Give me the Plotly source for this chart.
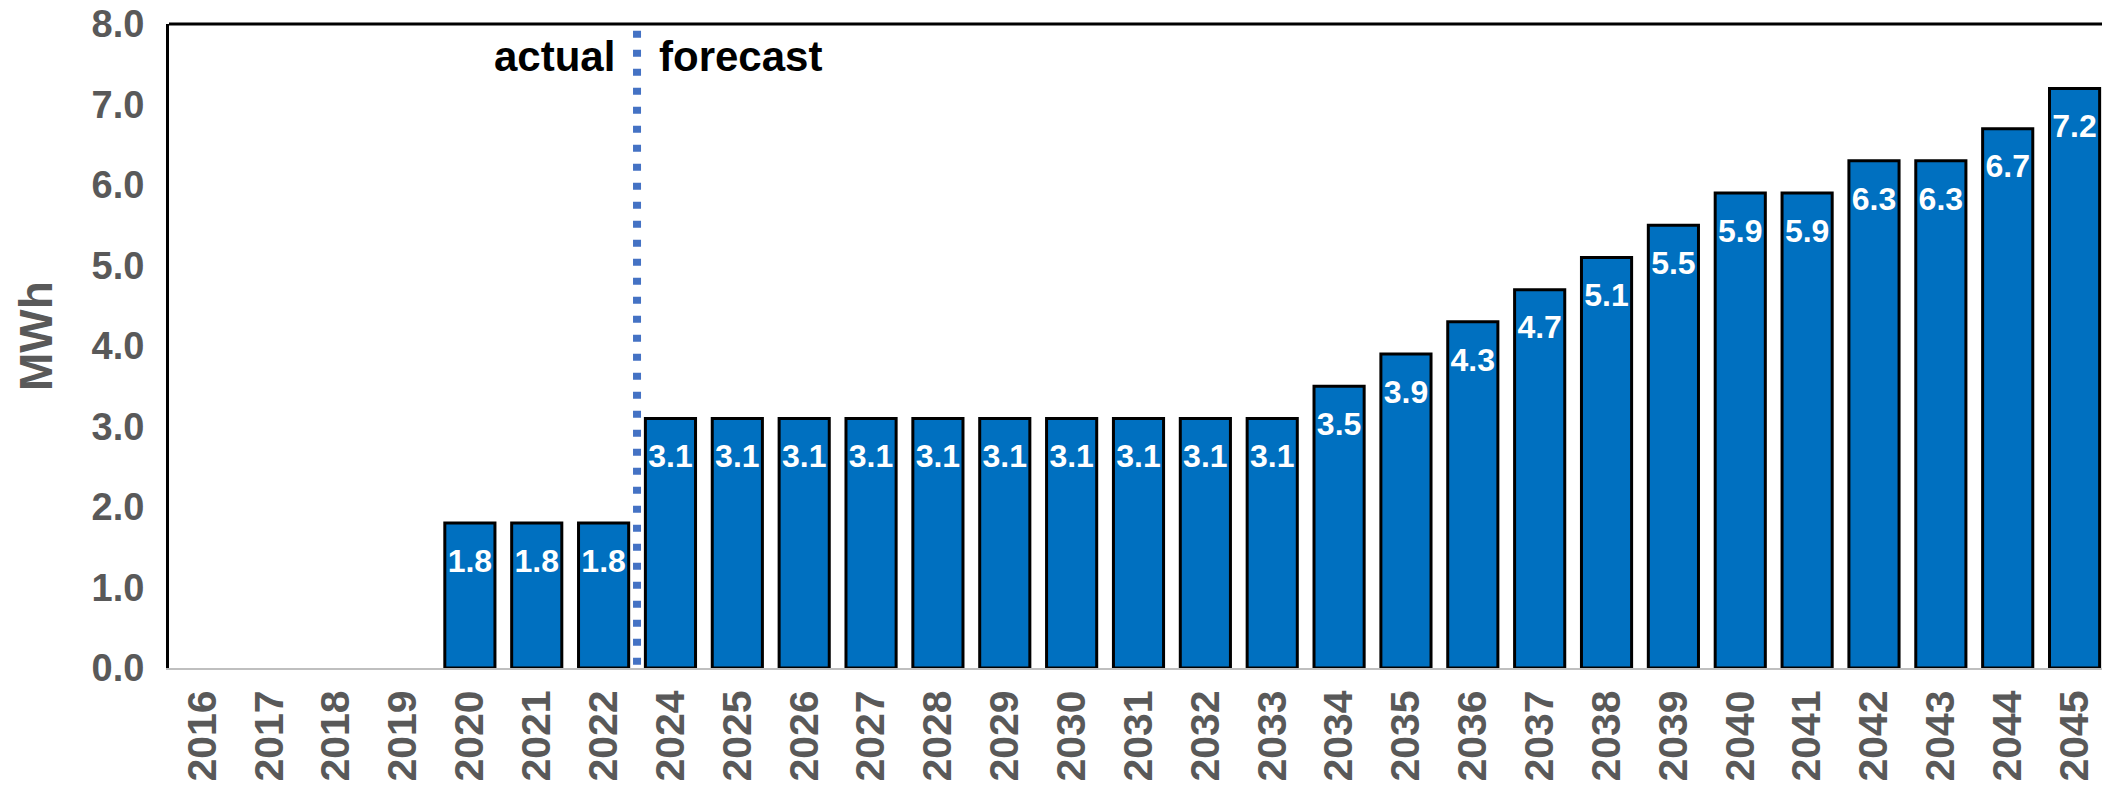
import plotly.graph_objects as go

# ---- data ----
years = ["2016", "2017", "2018", "2019", "2020", "2021", "2022",
         "2024", "2025", "2026", "2027", "2028", "2029", "2030", "2031", "2032", "2033",
         "2034", "2035", "2036", "2037", "2038", "2039", "2040", "2041", "2042", "2043", "2044", "2045"]
mwh = [None, None, None, None, 1.8, 1.8, 1.8,
       3.1, 3.1, 3.1, 3.1, 3.1, 3.1, 3.1, 3.1, 3.1, 3.1,
       3.5, 3.9, 4.3, 4.7, 5.1, 5.5, 5.9, 5.9, 6.3, 6.3, 6.7, 7.2]
last_actual_year = "2022"
y_ticks = [0, 1, 2, 3, 4, 5, 6, 7, 8]
y_title = "MWh"

FONT = "Liberation Sans, Arial, sans-serif"
GRAY = "#595959"
BAR = "#0070C0"
DIV = "#4472C4"

labels = [None if v is None else f"{v:.1f}" for v in mwh]

fig = go.Figure()
fig.add_trace(go.Bar(
    x=years, y=mwh,
    marker=dict(color=BAR, line=dict(color="black", width=3)),
    hoverinfo="skip",
))
fig.add_trace(go.Scatter(
    x=years, y=mwh, mode="markers+text",
    text=labels, textposition="bottom center",
    textfont=dict(family=FONT, size=32, color="white", weight="bold"),
    marker=dict(size=38, color="rgba(0,0,0,0)"),
    hoverinfo="skip", cliponaxis=False,
))

div_x = years.index(last_actual_year) + 0.5

fig.add_shape(type="line", xref="x", yref="paper", x0=div_x, x1=div_x, y0=0.005, y1=0.99,
              line=dict(color=DIV, width=8, dash="7px,12px"))
# frame: top and right
fig.add_shape(type="line", xref="paper", yref="paper", x0=0, x1=1, y0=1, y1=1,
              line=dict(color="black", width=3))
fig.add_shape(type="line", xref="paper", yref="paper", x0=1, x1=1, y0=0, y1=1,
              line=dict(color="black", width=1.5))

fig.add_annotation(text="actual", x=div_x, xref="x", y=0.95, yref="paper",
                   xanchor="right", yanchor="middle", xshift=-20, showarrow=False,
                   font=dict(family=FONT, size=42, color="black", weight="bold"))
fig.add_annotation(text="forecast", x=div_x, xref="x", y=0.95, yref="paper",
                   xanchor="left", yanchor="middle", xshift=20, showarrow=False,
                   font=dict(family=FONT, size=42, color="black", weight="bold"))
# y-axis title
fig.add_annotation(text=y_title, x=-0.0686, xref="paper", y=0.5155, yref="paper",
                   xanchor="center", yanchor="middle", textangle=-90, showarrow=False,
                   font=dict(family=FONT, size=46, color=GRAY, weight="bold"))

# the page body has an 8px default margin; the figure is sized/offset to compensate
fig.update_layout(
    width=2102, height=782,
    margin=dict(l=161, r=2, t=16, b=122),
    paper_bgcolor="white", plot_bgcolor="white",
    showlegend=False, bargap=0.25,
    xaxis=dict(type="category", categoryorder="array", categoryarray=years,
               range=[-0.5, len(years) - 0.5], autorange=False, automargin=False,
               tickangle=-90, showgrid=False, zeroline=False,
               showline=True, linecolor="#BFBFBF", linewidth=2, ticks="",
               ticklabelstandoff=4, ticklabeloverflow="allow",
               tickfont=dict(family=FONT, size=41, color=GRAY, weight="bold")),
    yaxis=dict(range=[0, 8], autorange=False, automargin=False,
               tickvals=y_ticks, tickformat=".1f",
               showgrid=False, zeroline=False,
               showline=True, linecolor="black", linewidth=3, ticks="",
               ticklabelstandoff=14, ticklabeloverflow="allow",
               tickfont=dict(family=FONT, size=38, color=GRAY, weight="bold")),
)

fig.write_html("out.html")
